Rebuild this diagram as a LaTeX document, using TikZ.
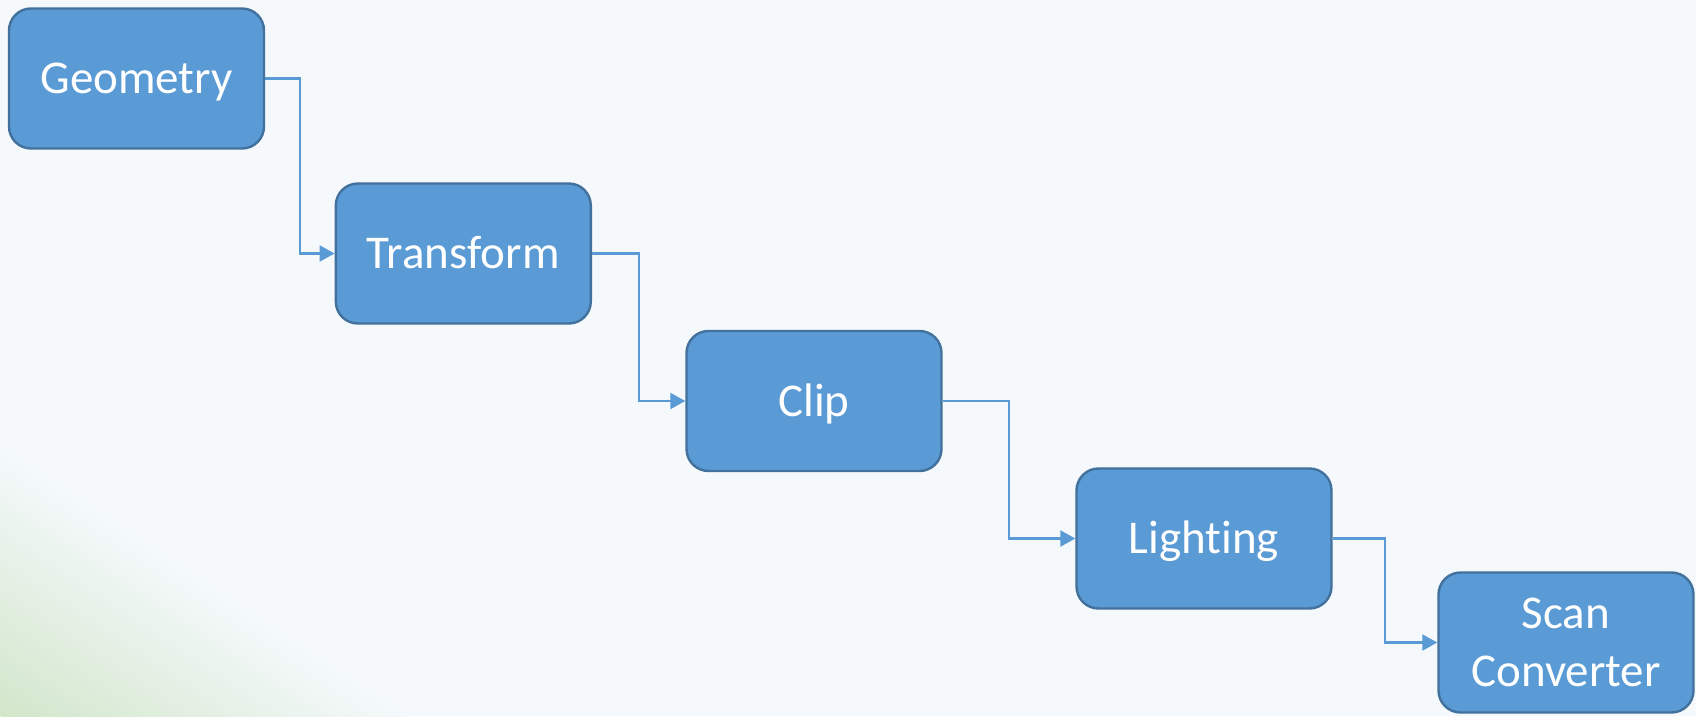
\documentclass[tikz,border=0pt]{standalone}
\usepackage{fontspec}
\setmainfont{Carlito}[Ligatures={NoCommon,NoRequired,NoContextual}]
\usetikzlibrary{arrows.meta,calc}
\definecolor{pagebg}{HTML}{F5F9FC}
\definecolor{cornergreen}{HTML}{D2E6CA}
\definecolor{boxfill}{HTML}{5B9BD5}
\definecolor{boxline}{HTML}{41719C}
\definecolor{linkblue}{HTML}{5B9BD5}
\begin{document}
\begin{tikzpicture}[x=1pt,y=1pt,
  stage/.style={draw=boxline, line width=2.4pt, fill=boxfill, rounded corners=22pt,
    minimum width=255pt, minimum height=140pt, inner sep=0pt, align=center,
    text=white, font=\fontsize{47}{57.5}\selectfont},
  oneline/.style={text height=36pt, text depth=6pt},
  link/.style={draw=linkblue, line width=2.2pt,
    -{Triangle[length=15pt,width=16pt]}}]
  % page background with a soft green wash in the lower left corner
  \fill[pagebg] (0,0) rectangle (1696,716);
  \begin{scope}
    \clip (0,0) rectangle (1696,716);
    \begin{scope}[rotate=-33.6]
      \foreach \i in {0,...,44} {
        \pgfmathsetmacro\mixpct{100*(1-\i/45)}
        \fill[cornergreen!\mixpct!pagebg] (-300,{\i*5}) rectangle (1200,{\i*5+5.6});
      }
    \end{scope}
  \end{scope}
  \useasboundingbox (0,0) rectangle (1696,716);

  % pipeline stages
  \node[stage, oneline] (geo) at (136.5,637.5) {Geometry};
  \node[stage, oneline] (tra) at (463.3,462.5) {Transform};
  \node[stage, oneline] (cli) at (814,315) {Clip};
  \node[stage, oneline] (lig) at (1204,177.5) {Lighting};
  \node[stage] (sca) at (1566,73.5) {Scan\\Converter};

  % elbow connectors between consecutive stages
  \draw[link] (geo.east) -| ($(geo.east)!0.5!(tra.west)$) |- (tra.west);
  \draw[link] (tra.east) -| ($(tra.east)!0.5!(cli.west)$) |- (cli.west);
  \draw[link] (cli.east) -| ($(cli.east)!0.5!(lig.west)$) |- (lig.west);
  \draw[link] (lig.east) -| ($(lig.east)!0.5!(sca.west)$) |- (sca.west);
\end{tikzpicture}
\end{document}
